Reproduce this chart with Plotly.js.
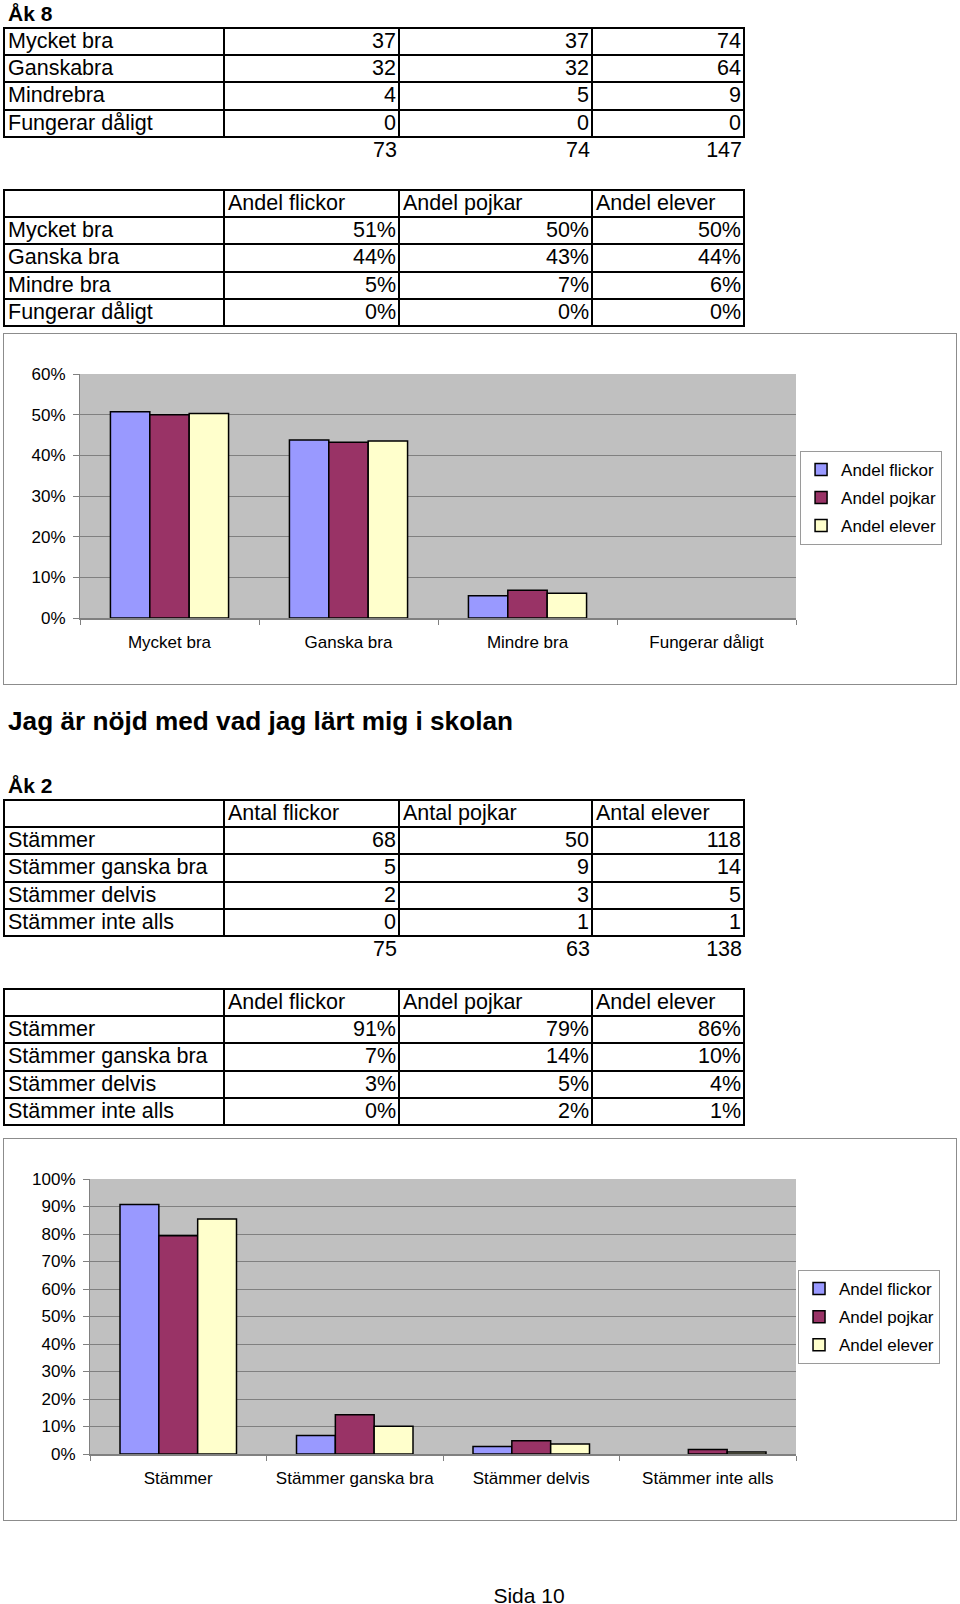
<!DOCTYPE html>
<html>
<head>
<meta charset="utf-8">
<script src="https://cdn.plot.ly/plotly-3.0.1.min.js"></script>
<style>
  html, body { margin: 0; padding: 0; background: #fff; }
  body { position: relative; width: 960px; height: 1604px; font-family: "Liberation Sans", Arial, sans-serif; color: #000; overflow: hidden; }
  .heading { position: absolute; left: 8px; font-weight: bold; font-size: 21px; line-height: 1; }
  .bigtitle { position: absolute; left: 8px; font-weight: bold; font-size: 26.2px; line-height: 1; }
  table.grid { position: absolute; left: 3px; border-collapse: collapse; table-layout: fixed; font-size: 21.5px; }
  table.grid td { border: 2px solid #000; padding: 0 2px 0 3px; height: 25.2px; line-height: 25px; white-space: nowrap; overflow: hidden; }
  table.grid td.num { text-align: right; }
  table.grid tr.tot td { border: none; }
  .chartbox { position: absolute; left: 3px; width: 952px; border: 1px solid #8c8c8c; }
  .footer { position: absolute; top: 1584px; left: 0; width: 1058px; text-align: center; font-size: 21px; }
</style>
</head>
<body>
<div class="heading" style="top:3px;">Åk 8</div>
<div class="bigtitle" style="top:708px;">Jag är nöjd med vad jag lärt mig i skolan</div>
<div class="heading" style="top:775px;">Åk 2</div>
<div id="chart1" class="chartbox" style="top:333px;height:350px;"></div>
<div id="chart2" class="chartbox" style="top:1138px;height:381px;"></div>
<div class="footer">Sida 10</div>

<script>
// ---------- Data: Åk 8 (counts) ----------
const ak8CountRows = ["Mycket bra", "Ganskabra", "Mindrebra", "Fungerar dåligt"];
const ak8CountFlickor = [37, 32, 4, 0];
const ak8CountPojkar = [37, 32, 5, 0];
const ak8CountElever = [74, 64, 9, 0];
const ak8CountTotals = [73, 74, 147];

// ---------- Data: Åk 8 (shares) ----------
const shareHeaders = ["Andel flickor", "Andel pojkar", "Andel elever"];
const ak8Categories = ["Mycket bra", "Ganska bra", "Mindre bra", "Fungerar dåligt"];
const ak8ShareFlickorText = ["51%", "44%", "5%", "0%"];
const ak8SharePojkarText = ["50%", "43%", "7%", "0%"];
const ak8ShareEleverText = ["50%", "44%", "6%", "0%"];
const ak8Flickor = [0.507, 0.438, 0.055, 0];
const ak8Pojkar = [0.500, 0.432, 0.068, 0];
const ak8Elever = [0.503, 0.435, 0.061, 0];

// ---------- Data: Åk 2 (counts) ----------
const countHeaders = ["Antal flickor", "Antal pojkar", "Antal elever"];
const ak2Categories = ["Stämmer", "Stämmer ganska bra", "Stämmer delvis", "Stämmer inte alls"];
const ak2CountFlickor = [68, 5, 2, 0];
const ak2CountPojkar = [50, 9, 3, 1];
const ak2CountElever = [118, 14, 5, 1];
const ak2CountTotals = [75, 63, 138];

// ---------- Data: Åk 2 (shares) ----------
const ak2ShareFlickorText = ["91%", "7%", "3%", "0%"];
const ak2SharePojkarText = ["79%", "14%", "5%", "2%"];
const ak2ShareEleverText = ["86%", "10%", "4%", "1%"];
const ak2Flickor = [0.907, 0.067, 0.027, 0];
const ak2Pojkar = [0.794, 0.143, 0.048, 0.016];
const ak2Elever = [0.855, 0.101, 0.036, 0.007];

const seriesNames = ["Andel flickor", "Andel pojkar", "Andel elever"];
const seriesColors = ["#9999FF", "#993366", "#FFFFCC"];

// ---------- Tables ----------
const colWidths = [220, 175, 193, 152];
function makeTable(top, header, labels, c1, c2, c3, totals) {
  const t = document.createElement("table");
  t.className = "grid";
  t.style.top = top + "px";
  const cg = document.createElement("colgroup");
  colWidths.forEach(w => { const c = document.createElement("col"); c.style.width = w + "px"; cg.appendChild(c); });
  t.appendChild(cg);
  if (header) {
    const tr = document.createElement("tr");
    ["", ...header].forEach(h => { const td = document.createElement("td"); td.textContent = h; tr.appendChild(td); });
    t.appendChild(tr);
  }
  labels.forEach((lab, i) => {
    const tr = document.createElement("tr");
    const td0 = document.createElement("td"); td0.textContent = lab; tr.appendChild(td0);
    [c1, c2, c3].forEach(col => { const td = document.createElement("td"); td.className = "num"; td.textContent = col[i]; tr.appendChild(td); });
    t.appendChild(tr);
  });
  if (totals) {
    const tr = document.createElement("tr"); tr.className = "tot";
    const td0 = document.createElement("td"); tr.appendChild(td0);
    totals.forEach(v => { const td = document.createElement("td"); td.className = "num"; td.textContent = v; tr.appendChild(td); });
    t.appendChild(tr);
  }
  document.body.appendChild(t);
}
makeTable(27, null, ak8CountRows, ak8CountFlickor, ak8CountPojkar, ak8CountElever, ak8CountTotals);
makeTable(189, shareHeaders, ak8Categories, ak8ShareFlickorText, ak8SharePojkarText, ak8ShareEleverText, null);
makeTable(799, countHeaders, ak2Categories, ak2CountFlickor, ak2CountPojkar, ak2CountElever, ak2CountTotals);
makeTable(988, shareHeaders, ak2Categories, ak2ShareFlickorText, ak2SharePojkarText, ak2ShareEleverText, null);

// ---------- Charts ----------
const font = { family: "Liberation Sans, Arial, sans-serif", size: 17, color: "#000" };
function makeChart(id, cats, vals, ymax, h, margin, legendY) {
  const traces = vals.map((v, i) => ({
    type: "bar", x: cats, y: v, name: seriesNames[i], legendgroup: "g" + i,
    marker: { color: seriesColors[i],
              line: { color: "#000", width: v.map(val => (val === 0 ? 0 : 1.5)) } },
    hoverinfo: "skip"
  }));
  const layout = {
    width: 952, height: h, margin: margin,
    paper_bgcolor: "#fff", plot_bgcolor: "#c0c0c0",
    font: font, barmode: "group", bargap: 0.34, bargroupgap: 0,
    showlegend: true,
    legend: { x: 1.204, xanchor: "right", y: legendY, yanchor: "top", bgcolor: "#fff",
              bordercolor: "#9a9a9a", borderwidth: 1, font: font,
              traceorder: "grouped", tracegroupgap: 3 },
    xaxis: { type: "category", showline: true, linecolor: "#808080", linewidth: 1.5,
             ticks: "outside", tickson: "boundaries", ticklen: 5, tickcolor: "#808080",
             showgrid: false, ticklabelstandoff: 8, fixedrange: true },
    yaxis: { range: [0, ymax], dtick: 0.1, tickformat: ".0%", showline: true, linecolor: "#808080",
             ticks: "outside", ticklen: 6, tickcolor: "#808080", gridcolor: "#808080", gridwidth: 1,
             zeroline: false, ticklabelstandoff: 4, fixedrange: true }
  };
  Plotly.newPlot(id, traces, layout, { staticPlot: true, displayModeBar: false });
}
makeChart("chart1", ak8Categories, [ak8Flickor, ak8Pojkar, ak8Elever], 0.6, 350,
          { l: 76, r: 160, t: 40, b: 66 }, 0.685);
makeChart("chart2", ak2Categories, [ak2Flickor, ak2Pojkar, ak2Elever], 1.0, 381,
          { l: 86, r: 160, t: 40, b: 66 }, 0.669);
</script>
</body>
</html>
